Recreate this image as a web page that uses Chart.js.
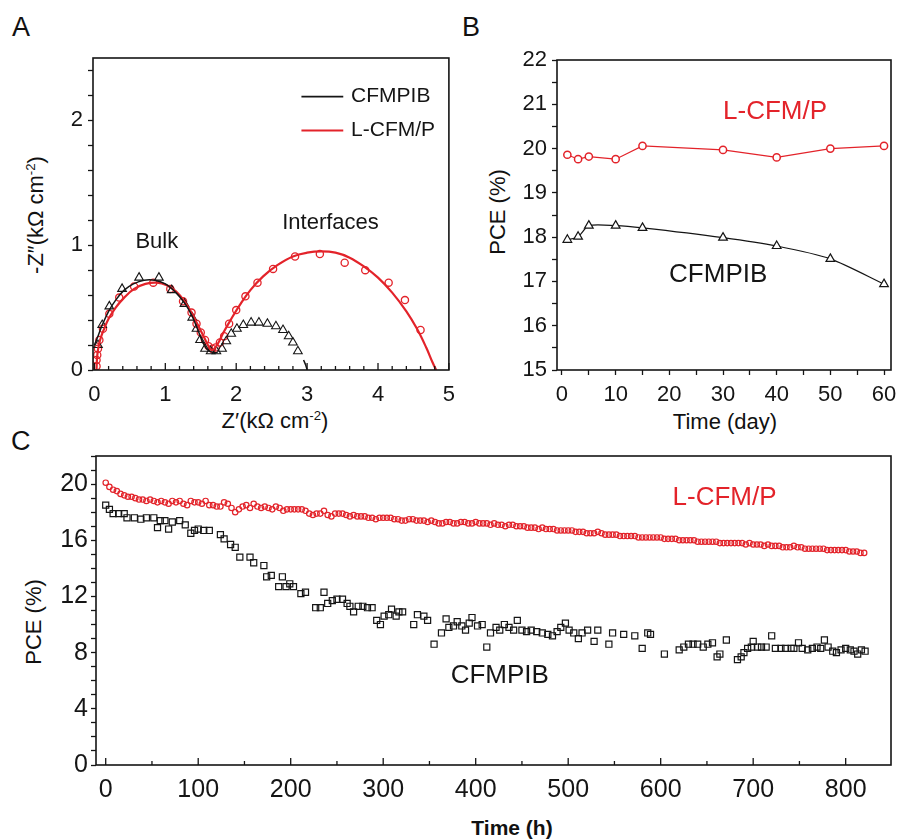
<!DOCTYPE html>
<html>
<head>
<meta charset="utf-8">
<script src="https://cdn.jsdelivr.net/npm/chart.js@4.4.0/dist/chart.umd.min.js"></script>
<style>
  body { margin: 0; background: #fff; width: 900px; height: 839px; position: relative; overflow: hidden;
         font-family: Arial, "Liberation Sans", sans-serif; color: #111; }
  canvas { position: absolute; }
  .lbl { position: absolute; white-space: nowrap; line-height: 1; }
  .ctr { transform: translate(-50%, -50%); }
  .rot { transform: translate(-50%, -50%) rotate(-90deg); }
  sup { font-size: 0.6em; vertical-align: 0.6em; line-height: 0; }
</style>
</head>
<body>

<div class="lbl" style="left:12px;top:14px;font-size:27px">A</div>
<div class="lbl" style="left:462px;top:14px;font-size:27px">B</div>
<div class="lbl" style="left:11px;top:428px;font-size:27px">C</div>

<div class="lbl rot" style="left:36px;top:215px;font-size:22px">-Z″(kΩ cm<sup>-2</sup>)</div>
<div class="lbl ctr" style="left:275px;top:421px;font-size:22px">Z′(kΩ cm<sup>-2</sup>)</div>
<div class="lbl rot" style="left:498px;top:212px;font-size:22px">PCE (%)</div>
<div class="lbl ctr" style="left:725px;top:422px;font-size:22px">Time (day)</div>
<div class="lbl rot" style="left:34px;top:622px;font-size:22px">PCE (%)</div>
<div class="lbl ctr" style="left:512px;top:827px;font-size:21px;font-weight:bold">Time (h)</div>

<canvas id="chartA" width="455" height="430" style="left:0;top:0"></canvas>
<canvas id="chartB" width="445" height="430" style="left:455px;top:0"></canvas>
<canvas id="chartC" width="900" height="409" style="left:0;top:430px"></canvas>

<script>
// ---- Panel A: Nyquist plot ----
const eisBlackRe = [0.05, 0.11, 0.21, 0.39, 0.63, 0.91, 1.09, 1.27, 1.38, 1.44, 1.49, 1.56, 1.64, 1.72, 1.80, 1.86, 1.93, 2.01, 2.10, 2.21, 2.32, 2.44, 2.56, 2.66, 2.74, 2.80, 2.87];
const eisBlackIm = [0.20, 0.36, 0.51, 0.65, 0.74, 0.74, 0.64, 0.53, 0.42, 0.33, 0.24, 0.17, 0.15, 0.15, 0.17, 0.23, 0.29, 0.33, 0.36, 0.38, 0.38, 0.37, 0.35, 0.32, 0.27, 0.22, 0.15];
const eisRedRe = [0.03, 0.03, 0.04, 0.05, 0.07, 0.12, 0.21, 0.35, 0.56, 0.83, 1.07, 1.25, 1.37, 1.44, 1.50, 1.56, 1.61, 1.66, 1.71, 1.77, 1.83, 1.90, 2.00, 2.13, 2.30, 2.52, 2.83, 3.18, 3.53, 3.82, 4.15, 4.38, 4.60];
const eisRedIm = [0.03, 0.08, 0.12, 0.17, 0.24, 0.33, 0.45, 0.58, 0.67, 0.70, 0.65, 0.55, 0.46, 0.37, 0.30, 0.24, 0.19, 0.17, 0.18, 0.22, 0.27, 0.37, 0.48, 0.59, 0.70, 0.81, 0.91, 0.93, 0.86, 0.80, 0.70, 0.56, 0.32];
const fitRedRe = [0.03, 0.035, 0.05, 0.08, 0.13, 0.20, 0.30, 0.42, 0.56, 0.72, 0.88, 1.02, 1.15, 1.27, 1.37, 1.46, 1.54, 1.60, 1.65, 1.69, 1.75, 1.82, 1.92, 2.05, 2.20, 2.38, 2.58, 2.80, 3.00, 3.20, 3.40, 3.60, 3.80, 4.00, 4.20, 4.40, 4.55, 4.68, 4.77, 4.82];
const fitRedIm = [0.00, 0.08, 0.16, 0.24, 0.32, 0.41, 0.50, 0.58, 0.65, 0.69, 0.70, 0.68, 0.63, 0.55, 0.46, 0.36, 0.27, 0.20, 0.16, 0.17, 0.22, 0.30, 0.40, 0.52, 0.64, 0.75, 0.84, 0.91, 0.94, 0.95, 0.94, 0.90, 0.83, 0.74, 0.62, 0.47, 0.33, 0.18, 0.06, 0.00];
// black fit shows on the bulk arc, then only a short tail reaching the axis near 3
const fitBlackRe = [0.00, 0.05, 0.11, 0.20, 0.30, 0.42, 0.55, 0.70, 0.85, 1.00, 1.15, 1.28, 1.38, 1.46, 1.53, 1.60, 1.68, 1.74, null, 2.95, 2.98, 3.00];
const fitBlackIm = [0.20, 0.27, 0.36, 0.47, 0.56, 0.64, 0.69, 0.72, 0.72, 0.69, 0.62, 0.53, 0.43, 0.32, 0.22, 0.16, 0.14, 0.14, null, 0.08, 0.04, 0.00];

// ---- Panel B: PCE over days ----
const days = [1, 3, 5, 10, 15, 30, 40, 50, 60];
const dayPceRed = [19.86, 19.76, 19.82, 19.76, 20.06, 19.97, 19.80, 20.00, 20.06];
const dayPceBlack = [17.94, 18.01, 18.26, 18.26, 18.21, 17.99, 17.80, 17.51, 16.94];

// ---- Panel C: PCE over hours ----
const redHours = [0,4,8,12,16,20,24,28,32,36,40,44,48,52,56,60,64,68,72,76,80,84,88,92,96,100,104,108,112,116,120,124,128,132,136,140,144,148,152,156,160,164,168,172,176,180,184,188,192,196,200,204,208,212,216,220,224,228,232,236,240,244,248,252,256,260,264,268,272,276,280,284,288,292,296,300,304,308,312,316,320,324,328,332,336,340,344,348,352,356,360,364,368,372,376,380,384,388,392,396,400,404,408,412,416,420,424,428,432,436,440,444,448,452,456,460,464,468,472,476,480,484,488,492,496,500,504,508,512,516,520,524,528,532,536,540,544,548,552,556,560,564,568,572,576,580,584,588,592,596,600,604,608,612,616,620,624,628,632,636,640,644,648,652,656,660,664,668,672,676,680,684,688,692,696,700,704,708,712,716,720,724,728,732,736,740,744,748,752,756,760,764,768,772,776,780,784,788,792,796,800,804,808,812,816,820];
const redPce = [20.1,19.8,19.6,19.5,19.3,19.2,19.1,19.1,19.0,18.9,18.9,18.8,18.9,18.8,18.7,18.8,18.7,18.6,18.8,18.7,18.8,18.6,18.5,18.8,18.7,18.7,18.6,18.8,18.5,18.5,18.4,18.4,18.7,18.6,18.3,18.0,18.2,18.4,18.5,18.3,18.6,18.4,18.3,18.4,18.3,18.2,18.4,18.3,18.1,18.2,18.2,18.2,18.2,18.2,18.1,17.9,17.8,17.9,17.9,18.1,17.8,17.7,17.9,17.9,17.9,17.8,17.7,17.8,17.7,17.7,17.7,17.6,17.6,17.5,17.6,17.6,17.6,17.6,17.5,17.5,17.4,17.4,17.5,17.5,17.4,17.4,17.4,17.3,17.4,17.3,17.2,17.2,17.3,17.3,17.2,17.2,17.3,17.3,17.2,17.2,17.3,17.2,17.2,17.2,17.1,17.2,17.1,17.1,17.0,17.1,17.1,17.0,17.0,17.0,16.9,16.9,16.9,16.8,16.9,16.8,16.8,16.8,16.7,16.7,16.7,16.7,16.7,16.6,16.6,16.6,16.5,16.5,16.5,16.6,16.5,16.4,16.4,16.4,16.4,16.3,16.3,16.3,16.3,16.3,16.2,16.2,16.2,16.2,16.2,16.2,16.2,16.1,16.1,16.1,16.1,16.0,16.0,16.0,16.0,16.0,15.9,15.9,15.9,15.9,15.9,15.9,15.8,15.8,15.8,15.8,15.8,15.8,15.8,15.7,15.8,15.7,15.7,15.7,15.6,15.7,15.6,15.6,15.6,15.5,15.5,15.5,15.6,15.5,15.5,15.4,15.4,15.4,15.4,15.4,15.4,15.3,15.3,15.3,15.3,15.3,15.3,15.2,15.2,15.2,15.1,15.1];
const blackHours = [0,4,8,14,20,23,31,38,44,52,56,59,64,68,72,80,86,92,96,100,106,112,124,128,135,140,145,156,160,171,174,179,187,191,195,199,203,211,216,227,232,236,240,245,250,256,261,264,268,273,278,283,288,293,297,301,306,309,314,317,321,333,337,344,348,355,363,368,371,376,380,385,389,393,396,402,407,412,416,422,426,431,436,441,445,450,455,460,466,472,478,483,488,492,497,501,506,511,515,521,528,532,544,548,560,572,580,586,589,604,620,625,630,635,640,646,651,656,661,664,671,683,687,690,694,698,700,705,709,714,720,724,730,735,741,744,749,753,759,764,769,773,777,781,786,790,795,800,805,809,813,817,821];
const blackPce = [18.5,18.2,17.9,17.9,17.9,17.6,17.6,17.5,17.6,17.6,16.9,17.4,17.4,16.8,17.3,17.4,17.1,16.5,16.7,16.8,16.7,16.7,16.4,16.1,15.7,15.5,14.8,14.8,14.4,14.2,13.4,13.5,12.7,13.4,12.7,12.9,12.7,12.2,12.3,11.2,11.2,12.3,11.5,11.7,11.8,11.8,11.5,11.3,10.9,11.3,11.3,11.2,11.2,10.3,10.0,10.6,10.7,11.1,10.6,10.9,10.9,10.0,10.7,10.6,10.3,8.6,9.4,10.4,9.8,9.9,10.2,9.9,9.6,10.1,10.5,9.9,10.0,8.4,9.4,9.8,9.6,10.0,9.8,9.6,10.3,9.6,9.5,9.6,9.5,9.4,9.3,9.2,9.5,9.8,10.1,9.6,9.4,9.0,9.4,9.6,8.8,9.6,8.6,9.4,9.3,9.2,8.3,9.4,9.3,7.9,8.2,8.4,8.6,8.6,8.6,8.4,8.6,8.7,7.7,7.9,8.9,7.5,7.7,8.0,8.3,8.4,8.8,8.4,8.4,8.4,9.2,8.3,8.3,8.3,8.3,8.3,8.7,8.3,8.2,8.3,8.4,8.3,8.9,8.4,8.1,8.0,8.2,8.3,8.2,8.1,7.9,8.2,8.1];

const RED = '#e3232a';
const INK = '#151515';

const pts = (xs, ys) => xs.map((x, i) => ({ x: x, y: ys[i] }));

// box around the plot area; inward ticks on x axes that ask for them
const framePlugin = {
  id: 'frame',
  afterDraw(chart) {
    const { ctx, chartArea: a } = chart;
    ctx.save();
    ctx.strokeStyle = INK;
    ctx.lineWidth = 1.3;
    const sx = chart.scales.x;
    if (sx.options.inTicks) {
      const major = sx.options.inTicks;
      sx.ticks.forEach(t => {
        const k = t.value / major;
        const len = Math.abs(k - Math.round(k)) < 1e-6 ? 7 : 4;
        const px = sx.getPixelForValue(t.value);
        ctx.beginPath();
        ctx.moveTo(px, a.bottom);
        ctx.lineTo(px, a.bottom - len);
        ctx.stroke();
      });
    }
    ctx.lineWidth = 1.6;
    ctx.strokeRect(a.left, a.top, a.right - a.left, a.bottom - a.top);
    ctx.restore();
  }
};

// free text and legend strokes, placed in data units
const notesPlugin = {
  id: 'notes',
  afterDatasetsDraw(chart, args, opts) {
    const { ctx } = chart;
    const sx = chart.scales.x, sy = chart.scales.y;
    (opts.lines || []).forEach(l => {
      ctx.save();
      ctx.strokeStyle = l.color;
      ctx.lineWidth = l.width;
      ctx.beginPath();
      ctx.moveTo(sx.getPixelForValue(l.x0), sy.getPixelForValue(l.y));
      ctx.lineTo(sx.getPixelForValue(l.x1), sy.getPixelForValue(l.y));
      ctx.stroke();
      ctx.restore();
    });
    (opts.items || []).forEach(n => {
      ctx.save();
      ctx.font = n.font;
      ctx.fillStyle = n.color;
      ctx.textAlign = n.align || 'center';
      ctx.textBaseline = 'middle';
      ctx.fillText(n.text, sx.getPixelForValue(n.x), sy.getPixelForValue(n.y));
      ctx.restore();
    });
  }
};

function axis(opts) {
  return {
    type: 'linear',
    min: opts.min,
    max: opts.max,
    inTicks: opts.inTicks || 0,
    border: { display: false },
    grid: { drawOnChartArea: false, drawTicks: !opts.inTicks, tickLength: 5, tickColor: INK, tickWidth: 1.3 },
    ticks: {
      stepSize: opts.step,
      includeBounds: false,
      autoSkip: false,
      maxRotation: 0,
      padding: opts.pad,
      color: INK,
      font: { family: 'Arial', size: opts.fontSize },
      callback: v => {
        const k = v / opts.major;
        return Math.abs(k - Math.round(k)) < 1e-6 ? String(Math.round(v)) : '';
      }
    },
    afterFit: s => {
      if (opts.width) s.width = opts.width;
      if (opts.height) s.height = opts.height;
      s.paddingLeft = 0; s.paddingRight = 0; s.paddingTop = 0; s.paddingBottom = 0;
    }
  };
}

function baseOptions(pad, xAxis, yAxis, notes) {
  return {
    responsive: false,
    animation: false,
    layout: { padding: pad },
    plugins: { legend: { display: false }, tooltip: { enabled: false }, notes: notes },
    scales: { x: xAxis, y: yAxis }
  };
}

// Panel A
new Chart(document.getElementById('chartA'), {
  type: 'scatter',
  data: {
    datasets: [
      { data: pts(fitBlackRe, fitBlackIm), showLine: true, spanGaps: false, borderColor: INK, borderWidth: 1.5, pointRadius: 0, tension: 0.4, fill: false },
      { data: pts(fitRedRe, fitRedIm), showLine: true, borderColor: RED, borderWidth: 2.2, pointRadius: 0, tension: 0.4, fill: false },
      { data: pts(eisBlackRe, eisBlackIm), pointStyle: 'triangle', pointRadius: 5, borderColor: INK, borderWidth: 1.1, backgroundColor: 'rgba(0,0,0,0)' },
      { data: pts(eisRedRe, eisRedIm), pointStyle: 'circle', pointRadius: 3.6, borderColor: RED, borderWidth: 1.3, backgroundColor: 'rgba(0,0,0,0)' }
    ]
  },
  options: baseOptions(
    { top: 58, right: 4, left: 0, bottom: 0 },
    axis({ min: -0.02, max: 5, step: 0.2, major: 1, pad: 12, fontSize: 22, height: 60, inTicks: 1 }),
    axis({ min: 0, max: 2.5, step: 0.2, major: 1, pad: 5, fontSize: 22, width: 93 }),
    {
      lines: [
        { x0: 2.92, x1: 3.51, y: 2.19, color: INK, width: 1.8 },
        { x0: 2.92, x1: 3.51, y: 1.92, color: RED, width: 2 }
      ],
      items: [
        { text: 'CFMPIB', x: 3.62, y: 2.19, align: 'left', font: '21px Arial', color: INK },
        { text: 'L-CFM/P', x: 3.62, y: 1.92, align: 'left', font: '21px Arial', color: INK },
        { text: 'Bulk', x: 0.88, y: 1.03, font: '22px Arial', color: INK },
        { text: 'Interfaces', x: 3.33, y: 1.18, font: '22px Arial', color: INK }
      ]
    }
  ),
  plugins: [notesPlugin, framePlugin]
});

// Panel B
new Chart(document.getElementById('chartB'), {
  type: 'scatter',
  data: {
    datasets: [
      { data: pts(days, dayPceRed), showLine: true, borderColor: RED, borderWidth: 1.2, tension: 0, pointStyle: 'circle', pointRadius: 3.6, pointBorderWidth: 1.5, pointBorderColor: RED, pointBackgroundColor: '#fff' },
      { data: pts(days, dayPceBlack), showLine: true, borderColor: INK, borderWidth: 1.2, tension: 0.25, pointStyle: 'triangle', pointRadius: 5, pointBorderWidth: 1.2, pointBorderColor: INK, pointBackgroundColor: '#fff' }
    ]
  },
  options: baseOptions(
    { top: 60, right: 9, left: 0, bottom: 0 },
    axis({ min: -0.93, max: 61.3, step: 5, major: 10, pad: 7, fontSize: 22, height: 60 }),
    axis({ min: 15, max: 22, step: 0.5, major: 1, pad: 5, fontSize: 22, width: 102 }),
    {
      items: [
        { text: 'L-CFM/P', x: 39.7, y: 20.83, font: '26px Arial', color: RED },
        { text: 'CFMPIB', x: 29.1, y: 17.15, font: '26px Arial', color: INK }
      ]
    }
  ),
  plugins: [notesPlugin, framePlugin]
});

// Panel C
new Chart(document.getElementById('chartC'), {
  type: 'scatter',
  data: {
    datasets: [
      { data: pts(redHours, redPce), pointStyle: 'circle', pointRadius: 2.7, borderColor: RED, borderWidth: 1.2, backgroundColor: 'rgba(0,0,0,0)' },
      { data: pts(blackHours, blackPce), pointStyle: 'rect', pointRadius: 4.3, borderColor: INK, borderWidth: 1.2, backgroundColor: 'rgba(0,0,0,0)' }
    ]
  },
  options: baseOptions(
    { top: 26, right: 9, left: 0, bottom: 0 },
    axis({ min: -10.5, max: 849, step: 50, major: 100, pad: 10, fontSize: 25, height: 74, inTicks: 100 }),
    axis({ min: 0, max: 22, step: 1, major: 4, pad: 3, fontSize: 25, width: 96 }),
    {
      items: [
        { text: 'L-CFM/P', x: 669, y: 19.0, font: '26px Arial', color: RED },
        { text: 'CFMPIB', x: 426, y: 6.36, font: '26px Arial', color: INK }
      ]
    }
  ),
  plugins: [notesPlugin, framePlugin]
});
</script>
</body>
</html>
